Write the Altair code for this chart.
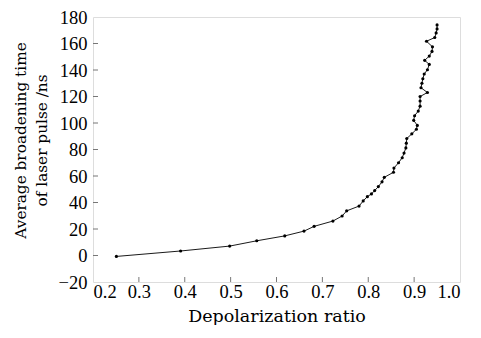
import altair as alt
import pandas as pd

ratio = [0.251, 0.391, 0.498, 0.557, 0.618, 0.660, 0.682, 0.723, 0.743, 0.753,
         0.780, 0.789, 0.798, 0.807, 0.814, 0.822, 0.830, 0.835, 0.855, 0.856,
         0.866, 0.874, 0.878, 0.882, 0.883, 0.884, 0.895, 0.905, 0.907, 0.899,
         0.901, 0.909, 0.913, 0.913, 0.913, 0.929, 0.915, 0.917, 0.919, 0.922,
         0.929, 0.933, 0.923, 0.933, 0.939, 0.940, 0.927, 0.945, 0.948, 0.950,
         0.950]
broadening = [-0.7, 3.4, 7.1, 11.1, 14.8, 18.4, 22.0, 26.0, 29.8, 33.7,
              37.3, 41.2, 44.4, 46.5, 49.0, 52.0, 55.6, 59.0, 62.8, 66.0,
              70.0, 73.8, 77.3, 81.2, 84.8, 88.3, 91.8, 95.3, 98.2, 102.0,
              105.5, 109.0, 112.7, 116.6, 120.0, 123.0, 126.6, 130.0, 133.4, 137.0,
              140.2, 144.2, 147.3, 150.5, 154.0, 157.5, 161.7, 164.5, 168.0, 171.0,
              174.0]
x_ticks = [0.2, 0.3, 0.4, 0.5, 0.6, 0.7, 0.8, 0.9, 1.0]
y_ticks = [-20, 0, 20, 40, 60, 80, 100, 120, 140, 160, 180]

W, H = 367, 265

df = pd.DataFrame({"x": ratio, "y": broadening, "i": list(range(len(ratio)))})
xt = pd.DataFrame({"v": x_ticks[1:-1]})
yt = pd.DataFrame({"v": y_ticks[1:-1]})

xscale = alt.Scale(domain=[0.2, 1.0], nice=False, zero=False)
yscale = alt.Scale(domain=[-20, 180], nice=False, zero=False)

xaxis = alt.Axis(values=x_ticks, format=".1f", title="Depolarization ratio",
                 grid=False, ticks=False, tickSize=0, domain=False,
                 labelPadding=0, titleY=39, titleBaseline="alphabetic",
                 labelFont="Liberation Serif", labelFontSize=18.5,
                 titleFont="DejaVu Serif", titleFontSize=17.5,
                 titleFontWeight="normal")
yaxis = alt.Axis(values=y_ticks, title=["Average broadening time", "of laser pulse /ns"],
                 grid=False, ticks=False, tickSize=0, domain=False,
                 labelPadding=6, titlePadding=9, titleY=123,
                 labelFont="Liberation Serif", labelFontSize=18.5,
                 titleFont="DejaVu Serif", titleFontSize=15.3, titleLineHeight=21,
                 titleFontWeight="normal")

line = alt.Chart(df).mark_line(
    color="black", strokeWidth=0.9,
    point=alt.OverlayMarkDef(filled=True, color="black", shape="circle", size=10)
).encode(
    x=alt.X("x:Q", scale=xscale, axis=xaxis),
    y=alt.Y("y:Q", scale=yscale, axis=yaxis),
    order="i:Q",
)

xtick = alt.Chart(xt).mark_rule(color="#777", strokeWidth=1).encode(
    x=alt.X("v:Q", scale=xscale, axis=xaxis), y=alt.value(H), y2=alt.value(H - 5))
ytick = alt.Chart(yt).mark_rule(color="#777", strokeWidth=1).encode(
    y=alt.Y("v:Q", scale=yscale, axis=yaxis), x=alt.value(0), x2=alt.value(5))

chart = alt.layer(line, xtick, ytick).properties(
    width=W, height=H,
    autosize=alt.AutoSizeParams(type="none"),
    padding={"left": 85, "top": 9, "right": 13, "bottom": 43},
).configure_view(stroke="#777", strokeWidth=1).configure_axis(
    labelColor="black", titleColor="black", titleFontWeight="normal"
).configure(background="white")

chart.save("out.html", embed_options={"renderer": "svg", "actions": False})
